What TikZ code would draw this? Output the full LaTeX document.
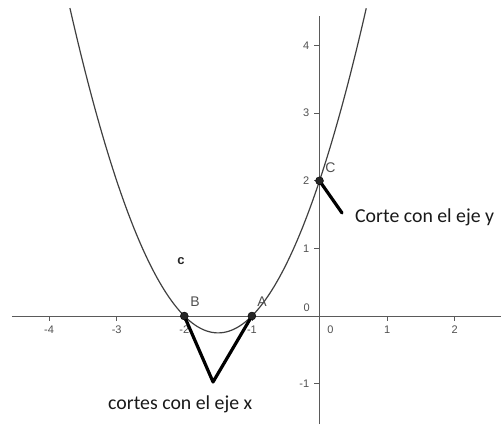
\documentclass[tikz,border=0pt]{standalone}
\usepackage{fontspec}
\setmainfont{Liberation Sans}
\newfontfamily\calib{Carlito}
\definecolor{axcol}{HTML}{5A5A5A}
\definecolor{labcol}{HTML}{505050}
\definecolor{curvecol}{HTML}{404040}
\tikzset{
  axisline/.style={draw=axcol, line width=0.9pt},
  tickmark/.style={draw=axcol, line width=0.8pt},
  ticklab/.style={text=labcol, font=\fontsize{11}{12}\selectfont, inner sep=0pt},
  ptlab/.style={text=labcol, font=\fontsize{14}{16}\selectfont, inner sep=0pt},
  ptdot/.style={circle, fill=black!85, draw=black, inner sep=0pt, minimum size=8pt},
  marker/.style={draw=black, line width=3.2pt, line cap=round, line join=round},
  note/.style={font=\calib\fontsize{19.8}{22}\selectfont, text=black!90, inner sep=0pt, anchor=base west}
}
\begin{document}
\begin{tikzpicture}
\useasboundingbox (0pt,0pt) rectangle (501pt,424pt);
\begin{scope}[shift={(319.5pt,108pt)}, x=67.6pt, y=67.6pt]
  % axes
  \coordinate (xl) at (-4.55,0);
  \coordinate (xr) at (2.69,0);
  \coordinate (yb) at (0,-1.6);
  \coordinate (yt) at (0,4.44);
  \draw[axisline] (xl) -- (xr);
  \draw[axisline] (yb) -- (yt);
  % x ticks
  \foreach \v in {-4,-3,-2,-1,1,2} {
    \draw[tickmark] (\v,0) -- (\v,-0.075);
  }
  \node[ticklab] (xtm4) at (-4,-0.2) {-4};
  \node[ticklab] (xtm3) at (-3,-0.2) {-3};
  \node[ticklab] (xtm2) at (-2,-0.2) {-2};
  \node[ticklab] (xtm1) at (-1,-0.2) {-1};
  \node[ticklab] (xt1) at (1,-0.2) {1};
  \node[ticklab] (xt2) at (2,-0.2) {2};
  \node[ticklab] (xt0) at (0.16,-0.2) {0};
  \node[ticklab] (yt0) at (-0.19,0.12) {0};
  % y ticks
  \foreach \v in {-1,1,2,3,4} {
    \draw[tickmark] (0,\v) -- (-0.075,\v);
  }
  \node[ticklab, anchor=east] (ytl4) at (-0.15,4) {4};
  \node[ticklab, anchor=east] (ytl3) at (-0.15,3) {3};
  \node[ticklab, anchor=east] (ytl2) at (-0.15,2) {2};
  \node[ticklab, anchor=east] (ytl1) at (-0.15,1) {1};
  \node[ticklab, anchor=east] (ytlm1) at (-0.15,-1) {-1};
  % parabola
  \draw[curvecol, line width=1.2pt] plot[domain=-3.692:0.692, samples=120, smooth] (\x, {\x*\x+3*\x+2});
  % points
  \coordinate (tip) at (-1.575,-0.976);
  \coordinate (cend) at (0.333,1.524);
  \draw[marker] (-2,0) -- (tip) -- (-1,0);
  \draw[marker] (0,2) -- (cend);
  \node[ptdot] (B) at (-2,0) {};
  \node[ptdot] (A) at (-1,0) {};
  \node[ptdot] (C) at (0,2) {};
  \node[ptlab] (Bl) at (-1.84,0.21) {B};
  \node[ptlab] (Al) at (-0.85,0.21) {A};
  \node[ptlab] (Cl) at (0.16,2.2) {C};
  \node[ptlab, text=black!85, font=\bfseries\fontsize{13}{15}\selectfont] (cl) at (-2.05,0.82) {c};
  % notes
  \node[note] (ny) at (0.525,1.39) {Corte con el eje y};
  \node[note] (nx) at (-3.128,-1.39) {cortes con el eje x};
\end{scope}
\end{tikzpicture}
\end{document}
